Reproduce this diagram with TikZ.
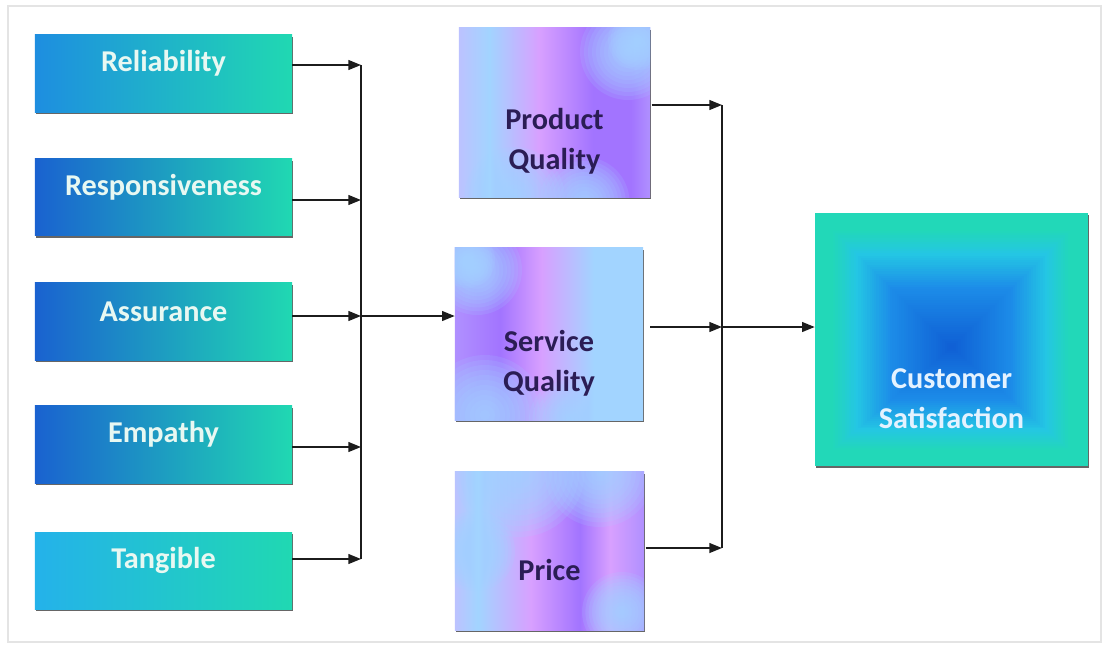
\documentclass[tikz,border=0pt]{standalone}
\usepackage{fontspec}
\setmainfont{Carlito}
\usetikzlibrary{arrows.meta,shadows,calc}
\definecolor{lbtext}{HTML}{E8F8F2}
\definecolor{mtext}{HTML}{2B1D55}
\definecolor{ctext}{HTML}{E4F2FF}
\definecolor{lbA}{HTML}{1A62D0}
\definecolor{lbB}{HTML}{1E8EE0}
\definecolor{lbC}{HTML}{24B2EA}
\definecolor{lbM}{HTML}{22BCE6}
\definecolor{lbR}{HTML}{20D8B2}
\definecolor{pBlue}{HTML}{A2D4FF}
\definecolor{pLav}{HTML}{BCC2FF}
\definecolor{pPink}{HTML}{D8A0FF}
\definecolor{pViol}{HTML}{A274FF}
\definecolor{pViolB}{HTML}{B090FF}
\definecolor{frame}{HTML}{E4E4E4}
\definecolor{cdark}{HTML}{0F5ED4}
\definecolor{cblue}{HTML}{1C8CE8}
\definecolor{ccyan}{HTML}{24C6E4}
\definecolor{cteal}{HTML}{22D8B8}
\definecolor{lnc}{HTML}{1C1C1C}
\pgfdeclarehorizontalshading{prodsh}{100bp}{color(0bp)=(pLav); color(25bp)=(pLav); color(33bp)=(pBlue); color(46bp)=(pPink); color(60bp)=(pViol); color(70bp)=(pViol); color(75bp)=(pViolB); color(100bp)=(pViolB)}
\pgfdeclarehorizontalshading{servsh}{100bp}{color(0bp)=(pViol); color(25bp)=(pViolB); color(37bp)=(pViol); color(48bp)=(pPink); color(62bp)=(pBlue); color(75bp)=(pBlue); color(100bp)=(pBlue)}
\pgfdeclarehorizontalshading{pricesh}{100bp}{color(0bp)=(pLav); color(25bp)=(pLav); color(31bp)=(pBlue); color(45bp)=(pPink); color(58bp)=(pViol); color(66bp)=(pPink); color(75bp)=(pViolB); color(100bp)=(pViolB)}
\newcommand{\softblob}[3]{\foreach \k in {1,...,12}{\fill[#1, opacity=0.15] #2 circle ({#3*\k/12});}}
\begin{document}
\begin{tikzpicture}[x=0.025cm,y=-0.025cm,
  boxfont/.style={font=\bfseries\fontsize{21.5}{28.5}\selectfont},
  shad/.style={drop shadow={shadow xshift=0.8pt, shadow yshift=-1.6pt, fill=black!80, opacity=0.75}},
  leftbox/.style={shad, inner sep=0pt, minimum width=6.425cm, minimum height=1.925cm,
    left color=#1, middle color=lbM, right color=lbR},
  leftlbl/.style={boxfont, text=lbtext, yshift=0.25cm},
  midbox/.style={shad, inner sep=0pt},
  midlbl/.style={boxfont, text=mtext, align=center},
  custbox/.style={shad, inner sep=0pt, minimum width=6.825cm, minimum height=6.325cm, fill=cteal},
  custlbl/.style={boxfont, text=ctext, align=center, yshift=-1.49cm},
  ln/.style={draw=lnc, line width=1.15pt},
  arr/.style={ln, -{Triangle[length=9pt,width=7pt]}}]
\useasboundingbox (0,0) rectangle (1108,651);
\fill[white] (0,0) rectangle (1108,651);
\draw[frame, line width=1.3pt] (8,6) rectangle (1101,642);

% left boxes
\node[leftbox=lbB, label={[leftlbl]center:Reliability}] (rel) at (163.5,73.5) {};
\node[leftbox=lbA, label={[leftlbl]center:Responsiveness}] (resp) at (163.5,197) {};
\node[leftbox=lbA, label={[leftlbl]center:Assurance}] (assu) at (163.5,321.5) {};
\node[leftbox=lbA, label={[leftlbl]center:Empathy}] (emp) at (163.5,444.5) {};
\node[leftbox=lbC, label={[leftlbl]center:Tangible}] (tang) at (163.5,570.5) {};

% middle boxes
\node[midbox, minimum width=4.775cm, minimum height=4.225cm, shading=prodsh,
  path picture={
    \softblob{pBlue}{($(path picture bounding box.north east)+(-22,24)$)}{48}
    \softblob{pBlue}{($(path picture bounding box.north east)+(-12,12)$)}{30}
    \softblob{pBlue}{($(path picture bounding box.south)+(-40,0)$)}{50}
    \softblob{pBlue}{($(path picture bounding box.south)+(30,5)$)}{45}
  },
  label={[midlbl, yshift=-0.71cm]center:Product\\Quality}] (prod) at (554.5,112.5) {};
\node[midbox, minimum width=4.7cm, minimum height=4.3cm, shading=servsh,
  path picture={
    \softblob{pBlue}{($(path picture bounding box.north west)+(22,22)$)}{45}
    \softblob{pBlue}{($(path picture bounding box.north west)+(12,12)$)}{28}
    \softblob{pBlue}{($(path picture bounding box.south west)+(30,-5)$)}{60}
    \softblob{pBlue}{($(path picture bounding box.south)+(20,0)$)}{40}
  },
  label={[midlbl, yshift=-0.725cm]center:Service\\Quality}] (serv) at (549,334) {};
\node[midbox, minimum width=4.725cm, minimum height=3.95cm, shading=pricesh,
  path picture={
    \softblob{pBlue}{($(path picture bounding box.north)+(-30,0)$)}{65}
    \softblob{pBlue}{($(path picture bounding box.north)+(50,0)$)}{55}
    \softblob{pBlue}{($(path picture bounding box.south east)+(-22,-18)$)}{40}
    \softblob{pBlue}{($(path picture bounding box.west)+(20,0)$)}{40}
  },
  label={[midlbl, yshift=-0.475cm]center:Price}] (price) at (549.5,551) {};

% customer box
\node[custbox,
  path picture={
    \foreach \i in {0,...,59}{
      \pgfmathsetmacro{\t}{\i/60}
      \pgfmathsetmacro{\p}{\t<0.12 ? 100 : (\t<0.3 ? 100-(\t-0.12)/0.18*100 : 0)}
      \pgfmathsetmacro{\q}{\t<0.3 ? 100 : (\t<0.55 ? 100-(\t-0.3)/0.25*100 : 0)}
      \pgfmathsetmacro{\r}{\t<0.55 ? 100 : 100-(\t-0.55)/0.45*100}
      \colorlet{cmixA}{cblue!\r!cdark}
      \colorlet{cmixB}{ccyan!\q!cmixA}
      \colorlet{cmixC}{cteal!\p!cmixB}
      \fill[cmixC] ($(path picture bounding box.center)+({-136.5*(1-\t)},{-126.5*(1-\t)+8*\t})$)
        rectangle ($(path picture bounding box.center)+({136.5*(1-\t)},{126.5*(1-\t)+8*\t})$);
    }
  },
  label={[custlbl]center:Customer\\Satisfaction}] (cust) at (951.5,339.5) {};

% first junction
\coordinate (j1a) at (361,65);
\coordinate (j1b) at (361,200);
\coordinate (j1c) at (361,316);
\coordinate (j1d) at (361,447);
\coordinate (j1e) at (361,559);
\draw[arr] (rel.east |- j1a) -- (j1a);
\draw[arr] (resp.east |- j1b) -- (j1b);
\draw[arr] (assu.east |- j1c) -- (j1c);
\draw[arr] (emp.east |- j1d) -- (j1d);
\draw[arr] (tang.east |- j1e) -- (j1e);
\draw[ln] (j1a) -- (j1e);
\draw[arr] (j1c) -- (serv.west |- j1c);

% second junction
\coordinate (j2a) at (722,105);
\coordinate (j2b) at (722,327);
\coordinate (j2c) at (722,548);
\draw[arr, shorten <=1pt] (prod.east |- j2a) -- (j2a);
\draw[arr, shorten <=5pt] (serv.east |- j2b) -- (j2b);
\draw[arr, shorten <=1pt] (price.east |- j2c) -- (j2c);
\draw[ln] (j2a) -- (j2c);
\draw[arr] (j2b) -- (cust.west |- j2b);
\end{tikzpicture}
\end{document}
